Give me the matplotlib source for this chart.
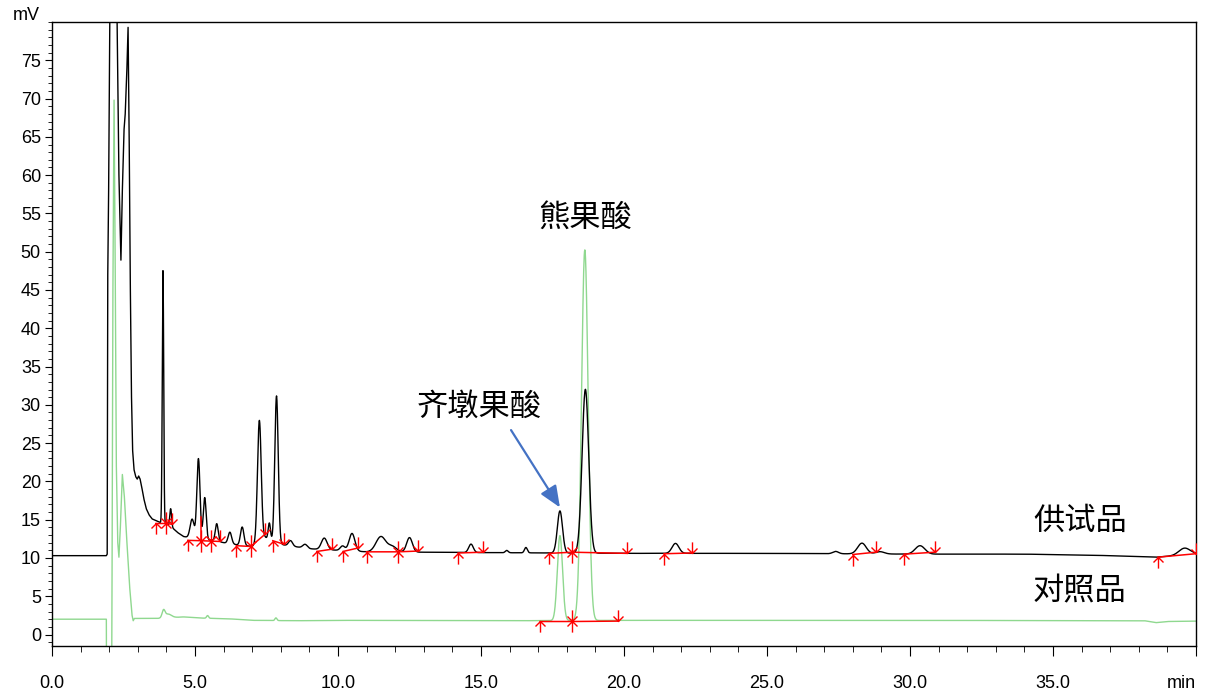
import numpy as np
import matplotlib
matplotlib.use("Agg")
from matplotlib import pyplot as plt
from matplotlib.path import Path
from matplotlib.ticker import MultipleLocator

plt.rcParams["font.family"] = ["Liberation Sans", "Noto Sans CJK SC", "DejaVu Sans"]

# ---- sample trace (供试品), black ----
# solvent front, read point by point
front_t = [0, 1.90, 1.93, 1.95, 1.98, 2.03, 2.10, 2.18, 2.27, 2.34, 2.41, 2.46,
           2.52, 2.56, 2.62, 2.66, 2.70, 2.74, 2.78, 2.82, 2.87, 2.93, 2.98, 3.03,
           3.08, 3.15, 3.22, 3.30, 3.40, 3.50]
front_v = [10.3, 10.3, 10.5, 47, 58, 85, 160, 170, 82, 60, 48.9, 58,
           66, 68, 74, 79.3, 64, 45, 31, 24, 21.5, 20.6, 20.3, 20.7,
           20.3, 19.0, 17.6, 16.4, 15.6, 15.1]
# baseline drift after the front
base_t = [3.5, 3.8, 4.1, 4.4, 4.6, 5.0, 5.6, 6.0, 6.5, 7.0, 7.45, 7.72, 8.1,
          9.0, 10.0, 11.0, 13.0, 15.0, 20.0, 25.0, 30.0, 34.0, 36.5, 38.6, 40.0]
base_v = [15.1, 14.6, 14.3, 13.3, 12.8, 12.5, 12.3, 12.0, 11.7, 11.5, 12.7, 12.1, 11.7,
          11.2, 11.0, 10.8, 10.75, 10.7, 10.6, 10.6, 10.5, 10.5, 10.35, 10.1, 10.5]
# peaks: retention time (min), height (mV), width (min)
pk_t = [3.88, 4.15, 4.90, 5.12, 5.34, 5.76, 6.22, 6.65, 7.25, 7.60, 7.85, 8.34,
        8.85, 9.52, 10.16, 10.49, 11.50, 11.90, 12.50, 14.65, 15.90, 16.57,
        17.76, 18.65, 21.80, 27.40, 28.32, 28.95, 30.35, 39.60]
pk_h = [33.0, 2.3, 2.5, 10.5, 5.5, 2.3, 1.5, 2.4, 15.8, 2.2, 19.2, 0.7,
        0.5, 1.5, 0.6, 2.3, 2.0, 0.7, 1.9, 1.1, 0.3, 0.7,
        5.5, 21.4, 1.3, 0.3, 1.4, 0.3, 1.1, 0.9]
pk_w = [0.025, 0.03, 0.07, 0.055, 0.05, 0.05, 0.06, 0.06, 0.065, 0.04, 0.06, 0.07,
        0.08, 0.10, 0.08, 0.10, 0.17, 0.15, 0.10, 0.08, 0.05, 0.05,
        0.09, 0.115, 0.12, 0.10, 0.15, 0.15, 0.17, 0.20]

# ---- reference trace (对照品), green ----
ref_front_t = [0, 1.90, 1.91, 2.08, 2.10, 2.13, 2.17, 2.21, 2.25, 2.30, 2.34, 2.39,
               2.46, 2.53, 2.62, 2.72, 2.80, 2.84, 2.88, 3.0]
ref_front_v = [2.0, 2.0, -12, -12, 8, 45, 69.8, 48, 22, 12, 10.1, 14,
               20.9, 18, 12, 6, 2.5, 1.8, 2.1, 2.1]
ref_base_t = [3.0, 3.7, 4.6, 5.2, 6.2, 7.0, 8.5, 10.0, 16.0, 20.0, 30.0, 38.2, 38.6, 39.0, 40.0]
ref_base_v = [2.1, 2.1, 2.3, 2.15, 2.05, 1.85, 1.8, 1.85, 1.8, 1.85, 1.85, 1.8, 1.55, 1.7, 1.75]
ref_pk_t = [3.90, 4.05, 5.44, 7.83, 17.76, 18.63]
ref_pk_h = [0.9, 0.5, 0.35, 0.35, 11.1, 48.4]
ref_pk_w = [0.05, 0.12, 0.035, 0.035, 0.09, 0.115]

# ---- integration marks: groups of (time, mV, kind) ----
sample_events = [
    [(3.63, 14.5, "up"), (4.00, 14.5, "star"), (4.20, 14.4, "down")],
    [(4.75, 12.3, "up"), (5.21, 12.25, "stard"), (5.56, 12.2, "stard"), (5.88, 12.15, "down")],
    [(6.45, 11.6, "up"), (6.95, 11.5, "star"), (7.45, 13.1, "down")],
    [(7.72, 12.25, "up"), (8.10, 11.8, "down")],
    [(9.26, 10.85, "up"), (9.80, 11.15, "down")],
    [(10.18, 10.85, "up"), (10.70, 11.3, "down")],
    [(11.00, 10.8, "up"), (12.11, 10.8, "star"), (12.80, 10.9, "down")],
    [(14.20, 10.65, "up"), (15.08, 10.75, "down")],
    [(17.39, 10.6, "up"), (18.19, 10.75, "star"), (20.10, 10.6, "down")],
    [(21.40, 10.55, "up"), (22.38, 10.65, "down")],
    [(28.00, 10.45, "up"), (28.80, 10.75, "down")],
    [(29.80, 10.5, "up"), (30.87, 10.75, "down")],
    [(38.67, 10.1, "up"), (39.99, 10.55, "down")],
]
ref_events = [
    [(17.07, 1.7, "up"), (18.19, 1.7, "star"), (19.78, 1.75, "down")],
]


def build_trace(ft, fv, bt, bv, pt, ph, pw):
    grid = np.arange(bt[0] + 0.005, 40.0 + 1e-9, 0.005)
    y = np.interp(grid, bt, bv)
    for t0, h, w in zip(pt, ph, pw):
        y = y + h * np.exp(-0.5 * ((grid - t0) / w) ** 2)
    return np.concatenate([ft, grid]), np.concatenate([fv, y])


tx, ty = build_trace(front_t, front_v, base_t, base_v, pk_t, pk_h, pk_w)
rx, ry = build_trace(ref_front_t, ref_front_v, ref_base_t, ref_base_v,
                     ref_pk_t, ref_pk_h, ref_pk_w)

up_path = Path([(0, -1), (0, 0), (-0.45, -0.45), (0, 0), (0.45, -0.45)],
               [Path.MOVETO, Path.LINETO, Path.MOVETO, Path.LINETO, Path.LINETO])
down_path = Path([(0, 1), (0, 0), (-0.45, 0.45), (0, 0), (0.45, 0.45)],
                 [Path.MOVETO, Path.LINETO, Path.MOVETO, Path.LINETO, Path.LINETO])
star_path = Path.make_compound_path(up_path, down_path)
markers = {"up": up_path, "down": down_path, "star": star_path, "stard": star_path}

fig = plt.figure(figsize=(12.08, 6.97), dpi=100)
ax = fig.add_axes([52 / 1208, 1 - 646 / 697, (1196 - 52) / 1208, (646 - 22) / 697])

ax.plot(rx, ry, color="#8fd88f", lw=1.0, zorder=2)
ax.plot(tx, ty, color="black", lw=1.0, zorder=3)


def draw_events(groups, xs, ys):
    for grp in groups:
        gt = [e[0] for e in grp]
        gv = [e[1] for e in grp]
        ax.plot(gt, gv, color="red", lw=1.1, zorder=4)
        for t0, v0, kind in grp:
            ax.plot([t0], [v0], ls="none", marker=markers[kind], markersize=16,
                    mew=1.0, color="red", mfc="none", zorder=5)
            if kind == "stard":
                top = np.interp(t0, xs, ys)
                ax.plot([t0, t0], [v0, top], color="red", lw=1.1, zorder=4)


draw_events(sample_events, tx, ty)
draw_events(ref_events, rx, ry)

ax.set_xlim(0, 40)
ax.set_ylim(-1.5, 80)
ax.set_xticks(np.arange(0, 41, 5))
ax.set_xticklabels(["0.0", "5.0", "10.0", "15.0", "20.0", "25.0", "30.0", "35.0", "min"])
ax.get_xticklabels()[-1].set_ha("right")
ax.set_yticks(np.arange(0, 80, 5))
ax.xaxis.set_minor_locator(MultipleLocator(1))
ax.yaxis.set_minor_locator(MultipleLocator(1))
ax.tick_params(axis="x", which="major", length=7, pad=14, labelsize=13)
ax.tick_params(axis="x", which="minor", length=4)
ax.tick_params(axis="y", which="major", length=5, pad=3, labelsize=13)
ax.tick_params(axis="y", which="minor", length=3)
for s in ax.spines.values():
    s.set_linewidth(1.0)

fig.text(26 / 1208, 1 - 15 / 697, "mV", ha="center", va="center", fontsize=13)

cjk = ["Noto Sans CJK SC", "DejaVu Sans"]
ax.text(18.64, 54.4, "熊果酸", ha="center", va="center", fontsize=22.5, family=cjk)
ax.text(14.93, 29.8, "齐墩果酸", ha="center", va="center", fontsize=22.5, family=cjk)
ax.text(35.94, 14.9, "供试品", ha="center", va="center", fontsize=22.5, family=cjk)
ax.text(35.94, 5.6, "对照品", ha="center", va="center", fontsize=22.5, family=cjk)

ax.annotate("", xy=(17.76, 16.6), xytext=(16.05, 26.7),
            arrowprops=dict(arrowstyle="-|>,head_length=1.3,head_width=0.55",
                            mutation_scale=10, color="#4472c4", lw=1.6,
                            shrinkA=0, shrinkB=0))

fig.savefig("out.png", dpi=100)
